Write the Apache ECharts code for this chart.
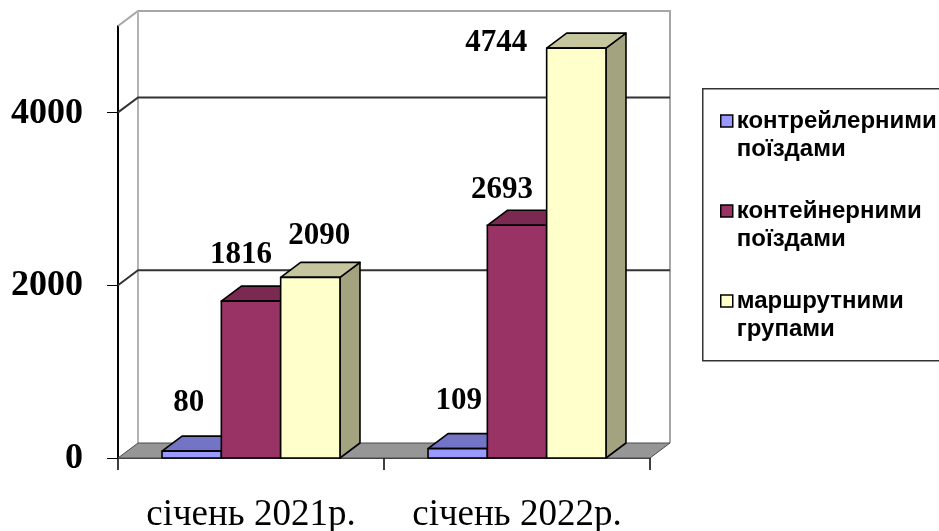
<!DOCTYPE html>
<html>
<head>
<meta charset="utf-8">
<style>html,body{margin:0;padding:0;background:#fff}#chart{width:939px;height:531px}</style>
<script src="https://cdn.jsdelivr.net/npm/echarts@6/dist/echarts.min.js"></script>
</head>
<body>
<div id="chart"></div>
<script>
// Перевезення за видами поїздів
const categories = ['січень 2021р.', 'січень 2022р.'];
const seriesNames = ['контрейлерними\nпоїздами', 'контейнерними\nпоїздами', 'маршрутними\nгрупами'];
const trailerTrains = [80, 109];
const containerTrains = [1816, 2693];
const routeGroups = [2090, 4744];
const valueTicks = [0, 2000, 4000];

// Псевдооб'ємний вигляд: зсув задньої грані та ширина стовпчика в частках категорії
const DEPTH_X = 20, DEPTH_Y = -15, BAR_SHARE = 0.223;

const looks = [
  { front: '#9999ff', top: '#7474c6', side: '#6f6fb8', shift: -1, nudge: [[-3, -48], [1, -48]] },
  { front: '#993366', top: '#7a2950', side: '#6f2549', shift: 0, nudge: [[-10, -46], [-15, -35]] },
  { front: '#ffffcc', top: '#c6c69e', side: '#a3a37f', shift: 1, nudge: [[9, -41], [-80, -5]] }
];

function polygon(points, fill) {
  return { type: 'polygon', shape: { points }, style: { fill, stroke: '#000', lineWidth: 1.6, lineJoin: 'round' } };
}

// Стовпчик: передня, верхня і бічна грані та підпис значення
function barRenderer(look) {
  return function (params, api) {
    const cat = api.value(0), val = api.value(1);
    const top = api.coord([cat, val]), base = api.coord([cat, 0]);
    const w = api.size([1, 0])[0] * BAR_SHARE;
    const l = top[0] + look.shift * w - w / 2, r = l + w;
    const t = top[1], b = base[1];
    const n = look.nudge[params.dataIndex];
    return {
      type: 'group',
      children: [
        polygon([[r, t], [r + DEPTH_X, t + DEPTH_Y], [r + DEPTH_X, b + DEPTH_Y], [r, b]], look.side),
        polygon([[l, t], [l + DEPTH_X, t + DEPTH_Y], [r + DEPTH_X, t + DEPTH_Y], [r, t]], look.top),
        polygon([[l, t], [r, t], [r, b], [l, b]], look.front),
        {
          type: 'text',
          style: {
            text: String(val), x: (l + r) / 2 + n[0], y: t + n[1],
            align: 'center', verticalAlign: 'middle',
            font: 'bold 31px "Liberation Serif"', fill: '#000'
          }
        }
      ]
    };
  };
}

// Задня стінка, підлога та лінії сітки
function wallRenderer(params, api) {
  const box = params.coordSys;
  const left = box.x, right = box.x + box.width, head = box.y;
  const y = api.coord([0, api.value(1)])[1];
  const children = [];
  const line = (pts, stroke, lineWidth) => ({
    type: 'polyline', shape: { points: pts }, style: { fill: 'none', stroke, lineWidth }
  });
  if (params.dataIndex === 0) {
    children.push(line([[left, head], [left + DEPTH_X, head + DEPTH_Y], [right + DEPTH_X, head + DEPTH_Y], [right + DEPTH_X, y + DEPTH_Y]], '#a6a6a6', 2));
    children.push(line([[left + DEPTH_X, head + DEPTH_Y], [left + DEPTH_X, y + DEPTH_Y]], '#b4b4b4', 2));
    children.push({
      type: 'polygon',
      shape: { points: [[left, y], [left + DEPTH_X, y + DEPTH_Y], [right + DEPTH_X, y + DEPTH_Y], [right, y]] },
      style: { fill: '#969696', stroke: '#4a4a4a', lineWidth: 1 }
    });
  } else {
    children.push(line([[left, y], [left + DEPTH_X, y + DEPTH_Y], [right + DEPTH_X, y + DEPTH_Y]], '#333', 2));
  }
  return { type: 'group', children };
}

const barData = [trailerTrains, containerTrains, routeGroups];

const chart = echarts.init(document.getElementById('chart'), null, { renderer: 'canvas' });
chart.setOption({
  animation: false,
  backgroundColor: '#fff',
  graphic: [{
    type: 'rect', left: 702, top: 88, z: -1,
    shape: { width: 260, height: 272 },
    style: { fill: '#fff', stroke: '#333', lineWidth: 1.5 }
  }],
  grid: { left: 118, right: 289, top: 26, bottom: 73, outerBoundsMode: 'none' },
  legend: {
    left: 720, top: 79, orient: 'vertical', padding: 0,
    icon: 'rect',
    itemWidth: 12, itemHeight: 12, itemGap: 6,
    selectedMode: false,
    itemStyle: { borderColor: '#000', borderWidth: 1.5 },
    textStyle: {
      fontFamily: 'Liberation Sans', fontWeight: 'bold', fontSize: 24,
      lineHeight: 28, color: '#000', padding: [0, 0, 0, -1]
    },
    formatter: name => '\n' + name,
    data: seriesNames
  },
  xAxis: {
    type: 'category',
    data: categories,
    axisLine: { lineStyle: { color: '#000', width: 1.5 } },
    axisTick: { show: true, alignWithLabel: false, length: 12, lineStyle: { color: '#000', width: 1.5 } },
    axisLabel: { interval: 0, margin: 39, fontFamily: 'Liberation Serif', fontSize: 37, color: '#000' },
    splitLine: { show: false }
  },
  yAxis: {
    type: 'value',
    min: 0,
    max: 5000,
    interval: 1000,
    axisLine: { show: true, lineStyle: { color: '#000', width: 2 } },
    axisTick: { show: true, length: 11, customValues: valueTicks, lineStyle: { color: '#000', width: 1 } },
    axisLabel: {
      margin: 35, customValues: valueTicks,
      formatter: v => String(v),
      verticalAlign: 'top',
      lineHeight: 36,
      padding: [-17, 0, 0, 0],
      fontFamily: 'Liberation Serif', fontWeight: 'bold', fontSize: 36, color: '#000'
    },
    splitLine: { show: false }
  },
  series: [
    {
      type: 'custom', name: 'стінка', silent: true, z: 1,
      data: valueTicks.map(v => [0, v]),
      encode: { x: 0, y: 1 },
      renderItem: wallRenderer
    }
  ].concat(seriesNames.map((name, i) => ({
    type: 'custom', name, z: 2 + i,
    itemStyle: { color: looks[i].front },
    data: barData[i].map((v, c) => [c, v]),
    encode: { x: 0, y: 1 },
    renderItem: barRenderer(looks[i])
  })))
});
</script>
</body>
</html>
